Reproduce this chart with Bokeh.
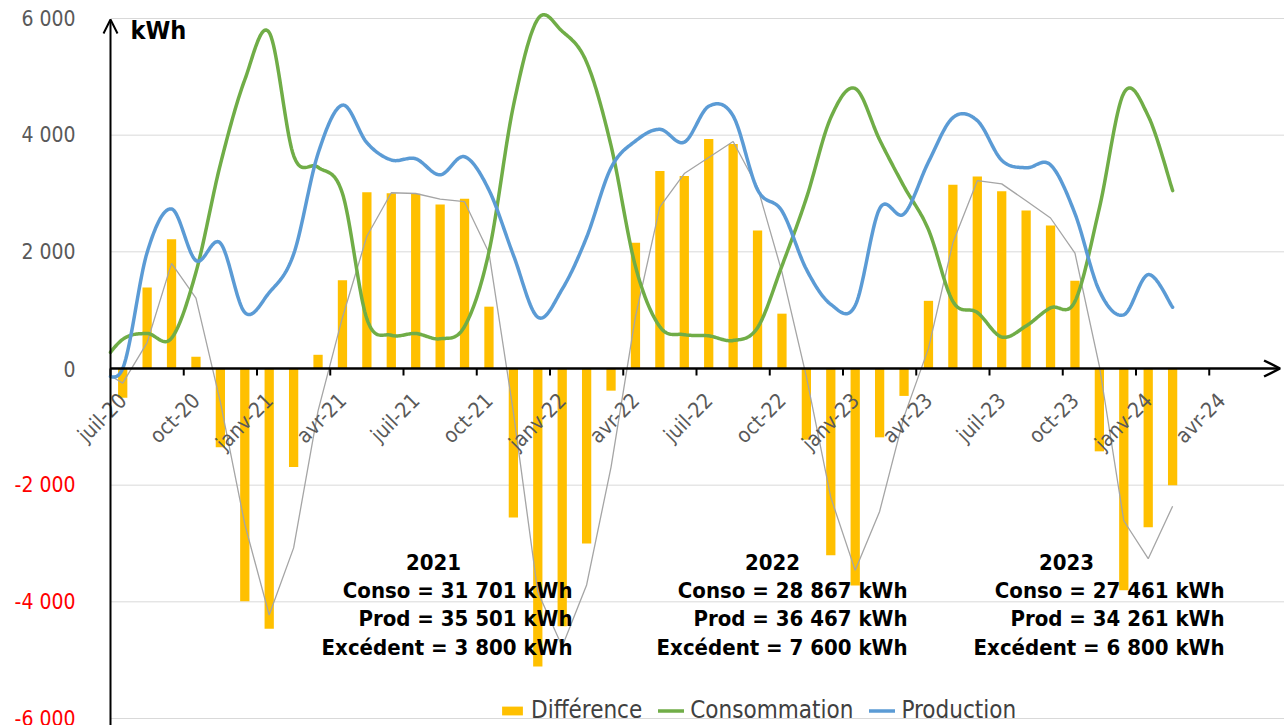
import numpy as np
from bokeh.plotting import figure
from bokeh.models import (ColumnDataSource, Range1d, Arrow, OpenHead, Label,
                          Legend, LegendItem)
from bokeh.core.properties import value
from bokeh.embed import file_html
from bokeh.resources import INLINE

# ---------------- data ----------------
mois = ["juin-20", "juil-20", "août-20", "sept-20", "oct-20", "nov-20", "déc-20",
        "janv-21", "févr-21", "mars-21", "avr-21", "mai-21", "juin-21", "juil-21",
        "août-21", "sept-21", "oct-21", "nov-21", "déc-21", "janv-22", "févr-22",
        "mars-22", "avr-22", "mai-22", "juin-22", "juil-22", "août-22", "sept-22",
        "oct-22", "nov-22", "déc-22", "janv-23", "févr-23", "mars-23", "avr-23",
        "mai-23", "juin-23", "juil-23", "août-23", "sept-23", "oct-23", "nov-23",
        "déc-23", "janv-24", "févr-24"]

consommation = [0, 500, 600, 520, 1650, 3500, 4950, 5760, 3650, 3450, 3000, 850, 570,
                600, 510, 720, 2000, 4500, 5990, 5780, 5250, 3820, 1750, 715, 580, 560,
                480, 700, 1760, 2920, 4300, 4800, 3920, 3120, 2380, 1150, 960, 540, 730,
                1040, 1150, 2750, 4720, 4330, 3050]

production = [0, 0, 1990, 2735, 1850, 2150, 960, 1300, 1960, 3685, 4515, 3870, 3575,
              3595, 3320, 3630, 3060, 1945, 880, 1360, 2250, 3440, 3900, 4100, 3880,
              4495, 4330, 3065, 2700, 1700, 1100, 1080, 2740, 2650, 3540, 4300, 4250,
              3570, 3440, 3490, 2655, 1330, 920, 1610, 1050]

difference = [0, -500, 1390, 2215, 200, -1350, -3990, -4460, -1690, 235, 1515, 3020,
              3005, 2995, 2810, 2910, 1060, -2555, -5110, -4420, -3000, -380, 2155,
              3385, 3300, 3935, 3850, 2365, 940, -1220, -3200, -3720, -1180, -470,
              1160, 3150, 3290, 3040, 2710, 2450, 1505, -1420, -3800, -2720, -2000]

tick_labels = ["juil-20", "oct-20", "janv-21", "avr-21", "juil-21", "oct-21",
               "janv-22", "avr-22", "juil-22", "oct-22", "janv-23", "avr-23",
               "juil-23", "oct-23", "janv-24", "avr-24"]

y_ticks = [6000, 4000, 2000, 0, -2000, -4000, -6000]
y_tick_labels = ["6 000", "4 000", "2 000", "0", "-2 000", "-4 000", "-6 000"]

annees = ["2021", "2022", "2023"]
conso_totale = ["31 701", "28 867", "27 461"]
prod_totale = ["35 501", "36 467", "34 261"]
excedent = ["3 800", "7 600", "6 800"]

# ---------------- style / layout ----------------
FONT = "DejaVu Sans Condensed"
GREY_TXT = "#595959"
W, H = 1284, 725
AX_X = 110            # pixel column of the vertical axis
Y_TOP_PX, Y_BOT_PX = 18, 718   # pixel rows of +6000 / -6000
px_x = 1172 / 48.0                      # pixels per month
kwh_px = 12000 / (Y_BOT_PX - Y_TOP_PX)  # kWh per pixel
X0 = -AX_X / px_x
X1 = (W - AX_X) / px_x
Y1 = 6000 + Y_TOP_PX * kwh_px
Y0 = -6000 - (H - Y_BOT_PX) * kwh_px
X_ARROW = 48 - 0.1

# x position of each month centre (first month of the data is one before the axis start)
xc = np.arange(len(mois)) - 1 + 0.5


def smooth(xs, ys, n=24):
    pts = np.column_stack([xs, ys]).astype(float)
    P = np.vstack([pts[0], pts, pts[-1]])
    t = np.linspace(0, 1, n)[:, None]
    out = []
    for i in range(len(pts) - 1):
        p0, p1, p2, p3 = P[i], P[i + 1], P[i + 2], P[i + 3]
        c1 = p1 + (p2 - p0) / 6.0
        c2 = p2 - (p3 - p1) / 6.0
        seg = ((1 - t) ** 3) * p1 + 3 * ((1 - t) ** 2) * t * c1 + 3 * (1 - t) * t ** 2 * c2 + t ** 3 * p2
        out.append(seg if i == 0 else seg[1:])
    s = np.vstack(out)
    return s[:, 0], s[:, 1]


def clip_left(x, y):
    """Cut a polyline at the vertical axis (x = 0), as the chart area does."""
    x = np.asarray(x, float)
    y = np.asarray(y, float)
    keep = x >= 0
    k = np.argmax(keep)
    if k > 0:
        y0 = np.interp(0.0, x[k - 1:k + 1], y[k - 1:k + 1])
        return np.r_[0.0, x[keep]], np.r_[y0, y[keep]]
    return x, y


p = figure(width=W, height=H, x_range=Range1d(X0, X1), y_range=Range1d(Y0, Y1),
           output_backend="svg", toolbar_location=None, x_axis_type=None, y_axis_type=None,
           min_border=0)
p.outline_line_color = None
p.background_fill_color = "white"
p.border_fill_color = "white"

# grid lines
grid_vals = [v for v in y_ticks if v != 0]
p.segment(x0=[0] * len(grid_vals), x1=[X1] * len(grid_vals), y0=grid_vals, y1=grid_vals,
          line_color="#D9D9D9", line_width=1)

# bars
src = ColumnDataSource(dict(x=xc[1:], d=difference[1:]))
bars = p.vbar(x="x", top="d", bottom=0, width=0.38, source=src, fill_color="#FFC000",
              line_color=None)

# moving average (period 2) trendline of the difference
trend = [difference[0]] + [(difference[i - 1] + difference[i]) / 2 for i in range(1, len(difference))]
tx, ty = clip_left(xc, trend)
p.line(tx, ty, line_color="#A5A5A5", line_width=1.3)

# smoothed lines
gx, gy = clip_left(*smooth(xc, consommation))
bx, by = clip_left(*smooth(xc, production))
g_line = p.line(gx, gy, line_color="#70AD47", line_width=3.5, line_join="round", line_cap="round")
b_line = p.line(bx, by, line_color="#5B9BD5", line_width=3.5, line_join="round", line_cap="round")

# x axis (at zero) with arrow
p.add_layout(Arrow(end=OpenHead(size=16, line_width=2.5, line_color="black"),
                   x_start=0, y_start=0, x_end=X_ARROW, y_end=0,
                   line_color="black", line_width=2.5))
# y axis with arrow
p.add_layout(Arrow(end=OpenHead(size=14, line_width=2, line_color="black"),
                   x_start=0, y_start=Y0, x_end=0, y_end=6000 - 1 * kwh_px,
                   line_color="black", line_width=2))

# x ticks + rotated labels
tick_x = [3 * i for i in range(len(tick_labels))]
tick_len = 7 * kwh_px
p.segment(x0=tick_x, x1=tick_x, y0=[0] * len(tick_x), y1=[-tick_len] * len(tick_x),
          line_color="black", line_width=2)
p.text(x=[t + 4 / px_x for t in tick_x], y=[-20 * kwh_px] * len(tick_x), text=tick_labels,
       angle=np.pi / 4, text_align="right", text_baseline="top", text_font=value(FONT),
       text_font_size="21px", text_color=GREY_TXT)

# y tick labels
ycolors = ["#FF0000" if v < 0 else GREY_TXT for v in y_ticks]
p.text(x=[-35 / px_x] * len(y_ticks), y=y_ticks, text=y_tick_labels, text_align="right",
       text_baseline="middle", text_color=ycolors, text_font=value(FONT),
       text_font_size="21px")

# unit label
p.add_layout(Label(x=20 / px_x, y=6000 - 12 * kwh_px, text="kWh", text_font=FONT,
                   text_font_size="25px", text_font_style="bold", text_color="black",
                   text_align="left", text_baseline="middle"))

# yearly summary blocks
year_cx = [(433 - AX_X) / px_x, (772 - AX_X) / px_x, (1066 - AX_X) / px_x]
block_rx = [(572 - AX_X) / px_x, (907 - AX_X) / px_x, (1224 - AX_X) / px_x]
zero_px = (Y_TOP_PX + Y_BOT_PX) / 2
row_y = [(zero_px - yy) * kwh_px for yy in (561, 590, 618, 647)]
p.text(x=year_cx, y=[row_y[0]] * 3, text=annees, text_align="center", text_baseline="middle",
       text_font=value(FONT), text_font_size="22px", text_font_style="bold", text_color="black")
lines_txt = []
lx, ly = [], []
for k in range(3):
    for j, s in enumerate([f"Conso = {conso_totale[k]} kWh", f"Prod = {prod_totale[k]} kWh",
                           f"Excédent = {excedent[k]} kWh"]):
        lines_txt.append(s)
        lx.append(block_rx[k])
        ly.append(row_y[j + 1])
p.text(x=lx, y=ly, text=lines_txt, text_align="right", text_baseline="middle",
       text_font=value(FONT), text_font_size="22px", text_font_style="bold", text_color="black")

legend = Legend(items=[LegendItem(label="Différence", renderers=[bars]),
                       LegendItem(label="Consommation", renderers=[g_line]),
                       LegendItem(label="Production", renderers=[b_line])],
                orientation="horizontal", location=(499, 1),
                background_fill_alpha=0, border_line_color=None,
                label_text_font=FONT, label_text_font_size="24px", label_text_color="#404040",
                glyph_width=26, glyph_height=11, label_standoff=6, spacing=16,
                padding=0, margin=0)
p.add_layout(legend)

open("out.html", "w").write(file_html(p, INLINE))
